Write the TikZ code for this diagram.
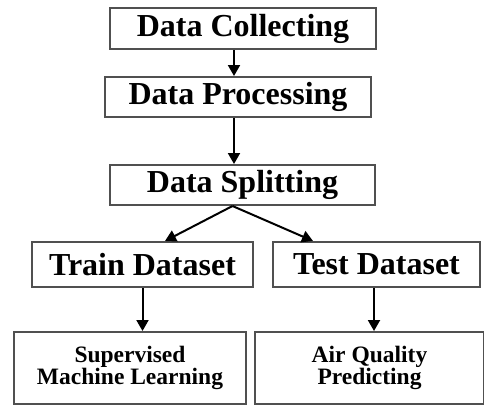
\documentclass[tikz,border=0pt]{standalone}
\usepackage{fontspec}
\setmainfont{Liberation Serif}
\usetikzlibrary{arrows.meta}
\definecolor{boxline}{HTML}{505050}
\tikzset{
  box/.style={draw=boxline, line width=2pt, inner sep=0pt, anchor=center},
  big/.style={font=\fontsize{32}{36}\selectfont\bfseries},
  small/.style={font=\fontsize{23.5}{22.5}\selectfont\bfseries, align=center},
  arr/.style={line width=2pt, -{Triangle[length=11pt,width=12pt]}}
}
\begin{document}
\begin{tikzpicture}[x=1pt,y=-1pt]
\useasboundingbox (0,0) rectangle (484,405);
\node[box,big,minimum width=266pt,minimum height=41pt] (b1) at (243,28.5) {Data Collecting};
\node[box,big,minimum width=266pt,minimum height=40pt] (b2) at (238,97) {Data Processing};
\node[box,big,minimum width=265pt,minimum height=40pt] (b3) at (242.5,185) {Data Splitting};
\node[box,big,minimum width=221pt,minimum height=45pt] (tr) at (142.5,264.5) {Train Dataset};
\node[box,big,minimum width=207pt,minimum height=45pt] (te) at (376.5,264.5) {Test Dataset};
\node[box,small,minimum width=232pt,minimum height=72pt] (sup) at (130,368) {Supervised\\Machine Learning};
\node[box,small,minimum width=229pt,minimum height=72pt] (air) at (369.5,368) {Air Quality\\Predicting};
\draw[arr] ([xshift=-9pt]b1.south) -- ([xshift=-4pt]b2.north);
\draw[arr] ([xshift=-4pt]b2.south) -- ([xshift=-8.5pt]b3.north);
\draw[arr] ([xshift=-10pt]b3.south) -- ([xshift=22.5pt]tr.north);
\draw[arr] ([xshift=-10pt]b3.south) -- ([xshift=-63.5pt]te.north);
\draw[arr] (tr.south) -- ([xshift=12.5pt]sup.north);
\draw[arr] ([xshift=-2.5pt]te.south) -- ([xshift=4.5pt]air.north);
\end{tikzpicture}
\end{document}
